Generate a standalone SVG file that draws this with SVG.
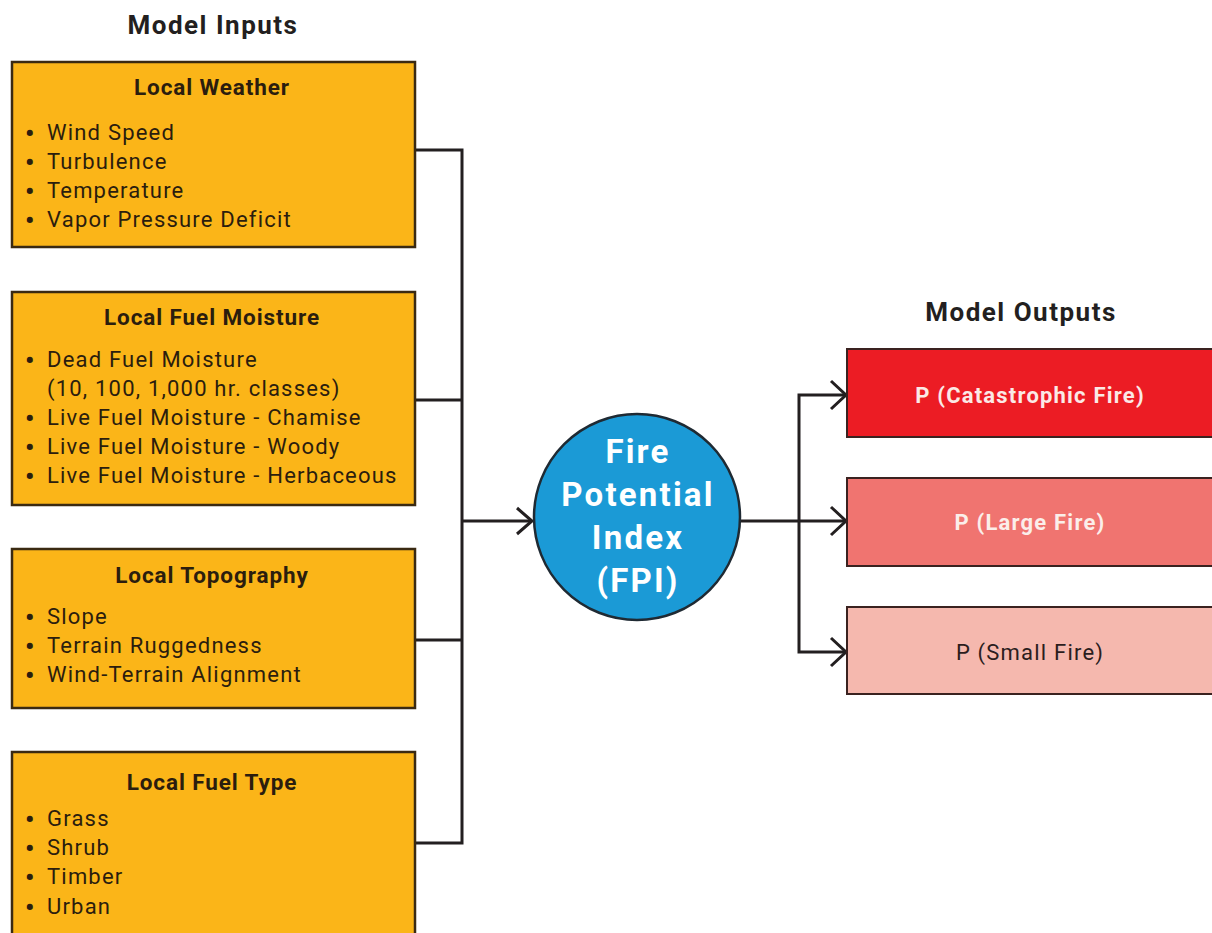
<svg xmlns="http://www.w3.org/2000/svg" width="1212" height="933" viewBox="0 0 1212 933">
<style>
.title{font-family:Roboto,"Liberation Sans",sans-serif;font-weight:bold;font-size:26px;letter-spacing:1.5px;fill:#231f20;text-anchor:middle}
.inbox{fill:#fbb518;stroke:#3a2a12;stroke-width:2.5}
.head{font-family:Roboto,"Liberation Sans",sans-serif;font-weight:bold;font-size:22.5px;letter-spacing:0.9px;fill:#2b1d0e;text-anchor:middle}
.item{font-family:Roboto,"Liberation Sans",sans-serif;font-size:22px;letter-spacing:1.2px;fill:#2b1d0e}
.bul{font-family:Roboto,"Liberation Sans",sans-serif;font-weight:bold;font-size:26px;fill:#2b1d0e}
.conn{fill:none;stroke:#231f20;stroke-width:3}
.outbox{stroke:#3a2220;stroke-width:2}
.otext{font-family:Roboto,"Liberation Sans",sans-serif;font-weight:bold;font-size:22px;letter-spacing:1.2px;text-anchor:middle}
.otext2{font-family:Roboto,"Liberation Sans",sans-serif;font-weight:normal;font-size:22px;letter-spacing:1.2px;text-anchor:middle}
.ctext{font-family:Roboto,"Liberation Sans",sans-serif;font-weight:bold;font-size:33px;letter-spacing:2.2px;fill:#ffffff;text-anchor:middle}
</style>
<rect width="1212" height="933" fill="#ffffff"/>
<text class="title" x="213" y="34">Model Inputs</text>
<text class="title" x="1021" y="321">Model Outputs</text>

<g id="connectors">
  <polyline class="conn" points="415,150 462,150 462,843 415,843"/>
  <line class="conn" x1="415" y1="400" x2="462" y2="400"/>
  <line class="conn" x1="415" y1="640" x2="462" y2="640"/>
  <line class="conn" x1="462" y1="521" x2="531" y2="521"/>
  <polyline class="conn" points="517,508 532,521 517,534"/>
  <line class="conn" x1="740" y1="521" x2="844" y2="521"/>
  <polyline class="conn" points="844,395 799,395 799,652 844,652"/>
  <polyline class="conn" points="831,381 846,395 831,409"/>
  <polyline class="conn" points="831,507 846,521 831,535"/>
  <polyline class="conn" points="831,638 846,652 831,666"/>
</g>

<g id="local-weather">
  <rect class="inbox" x="12" y="62" width="403" height="185"/>
  <text class="head" x="212" y="95">Local Weather</text>
  <text class="bul" x="25" y="142">•</text><text class="item" x="47" y="140">Wind Speed</text>
  <text class="bul" x="25" y="171">•</text><text class="item" x="47" y="169">Turbulence</text>
  <text class="bul" x="25" y="200">•</text><text class="item" x="47" y="198">Temperature</text>
  <text class="bul" x="25" y="229">•</text><text class="item" x="47" y="227">Vapor Pressure Deficit</text>
</g>

<g id="local-fuel-moisture">
  <rect class="inbox" x="12" y="292" width="403" height="213"/>
  <text class="head" x="212" y="325">Local Fuel Moisture</text>
  <text class="bul" x="25" y="369">•</text><text class="item" x="47" y="367">Dead Fuel Moisture</text>
  <text class="item" x="47" y="396">(10, 100, 1,000 hr. classes)</text>
  <text class="bul" x="25" y="427">•</text><text class="item" x="47" y="425">Live Fuel Moisture - Chamise</text>
  <text class="bul" x="25" y="456">•</text><text class="item" x="47" y="454">Live Fuel Moisture - Woody</text>
  <text class="bul" x="25" y="485">•</text><text class="item" x="47" y="483">Live Fuel Moisture - Herbaceous</text>
</g>

<g id="local-topography">
  <rect class="inbox" x="12" y="549" width="403" height="159"/>
  <text class="head" x="212" y="583">Local Topography</text>
  <text class="bul" x="25" y="626">•</text><text class="item" x="47" y="624">Slope</text>
  <text class="bul" x="25" y="655">•</text><text class="item" x="47" y="653">Terrain Ruggedness</text>
  <text class="bul" x="25" y="684">•</text><text class="item" x="47" y="682">Wind-Terrain Alignment</text>
</g>

<g id="local-fuel-type">
  <rect class="inbox" x="12" y="752" width="403" height="200"/>
  <text class="head" x="212" y="790">Local Fuel Type</text>
  <text class="bul" x="25" y="828">•</text><text class="item" x="47" y="826">Grass</text>
  <text class="bul" x="25" y="857">•</text><text class="item" x="47" y="855">Shrub</text>
  <text class="bul" x="25" y="886">•</text><text class="item" x="47" y="884">Timber</text>
  <text class="bul" x="25" y="916">•</text><text class="item" x="47" y="914">Urban</text>
</g>

<g id="fpi">
  <circle cx="637" cy="517" r="103" fill="#1b9ad6" stroke="#1f2a33" stroke-width="2.5"/>
  <text class="ctext" x="638" y="463">Fire</text>
  <text class="ctext" x="638" y="506">Potential</text>
  <text class="ctext" x="638" y="549">Index</text>
  <text class="ctext" x="638" y="592">(FPI)</text>
</g>

<g id="catastrophic">
  <rect class="outbox" x="847" y="349" width="380" height="88" fill="#ec1c24"/>
  <text class="otext" x="1030" y="403" fill="#fbe9e6">P (Catastrophic Fire)</text>
</g>
<g id="large">
  <rect class="outbox" x="847" y="478" width="380" height="88" fill="#f07470"/>
  <text class="otext" x="1030" y="530" fill="#fbeeea">P (Large Fire)</text>
</g>
<g id="small">
  <rect class="outbox" x="847" y="607" width="380" height="87" fill="#f5b8ae"/>
  <text class="otext2" x="1030" y="660" fill="#2b1d1d">P (Small Fire)</text>
</g>
</svg>
